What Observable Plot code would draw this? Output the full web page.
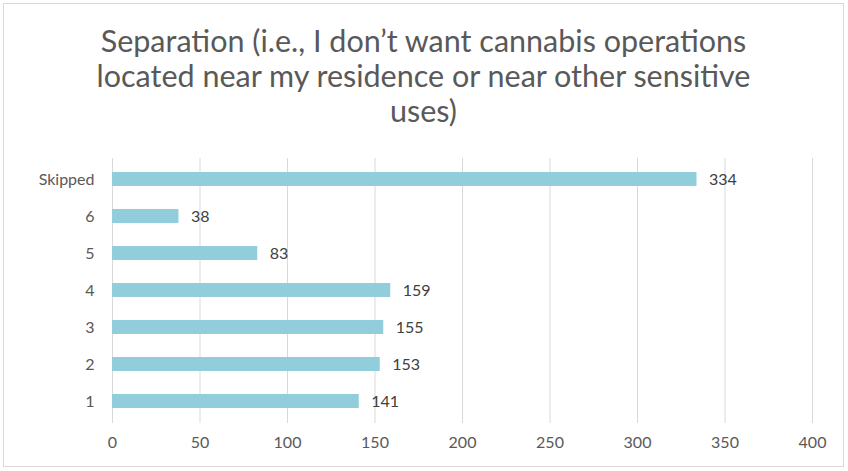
<!DOCTYPE html>
<html>
<head>
<meta charset="utf-8">
<script src="https://cdn.jsdelivr.net/npm/d3@7"></script>
<script src="https://cdn.jsdelivr.net/npm/@observablehq/plot@0.6"></script>
<style>
  html, body { margin: 0; padding: 0; background: #fff; }
  #frame {
    position: absolute; left: 3px; top: 3px; width: 841px; height: 464px;
    border: 1px solid #d9d9d9; box-sizing: border-box; background: #fff;
  }
  #title {
    position: absolute; left: 0; top: 19px; width: 100%;
    text-align: center; font-family: Lato, "Open Sans", sans-serif;
    font-size: 30.5px; line-height: 35px; color: #595959;
  }
  #chart { position: absolute; left: 0; top: 136px; }
</style>
</head>
<body>
<div id="frame">
  <div id="title">Separation (i.e., I don’t want cannabis operations<br>located near my residence or near other sensitive<br>uses)</div>
  <div id="chart"></div>
</div>
<script>
const categories = ["Skipped", "6", "5", "4", "3", "2", "1"];
const counts = [334, 38, 83, 159, 155, 153, 141];
const xTicks = [0, 50, 100, 150, 200, 250, 300, 350, 400];

const data = categories.map((c, i) => ({category: c, count: counts[i]}));

const plot = Plot.plot({
  width: 839,
  height: 322,
  marginTop: 18,
  marginBottom: 39,
  marginLeft: 108,
  marginRight: 31,
  style: {fontFamily: "Lato, 'Open Sans', sans-serif", fontSize: "16px", color: "#595959", background: "#fff"},
  x: {domain: [0, 400], ticks: xTicks, label: null},
  y: {domain: categories, label: null, paddingInner: 0.62, paddingOuter: 0.31},
  marks: [
    Plot.gridX(xTicks, {stroke: "#d9d9d9", strokeOpacity: 1, strokeWidth: 1}),
    Plot.barX(data, {x: "count", y: "category", fill: "#92cddc"}),
    Plot.text(data, {x: "count", y: "category", text: d => String(d.count), textAnchor: "start", dx: 12, fill: "#404040", fontSize: 16}),
    Plot.axisX({ticks: xTicks, tickSize: 0, tickPadding: 13, fill: "#595959", fontSize: 16}),
    Plot.axisY({tickSize: 0, tickPadding: 18, fill: "#595959", fontSize: 16})
  ]
});
document.getElementById("chart").appendChild(plot);
</script>
</body>
</html>
